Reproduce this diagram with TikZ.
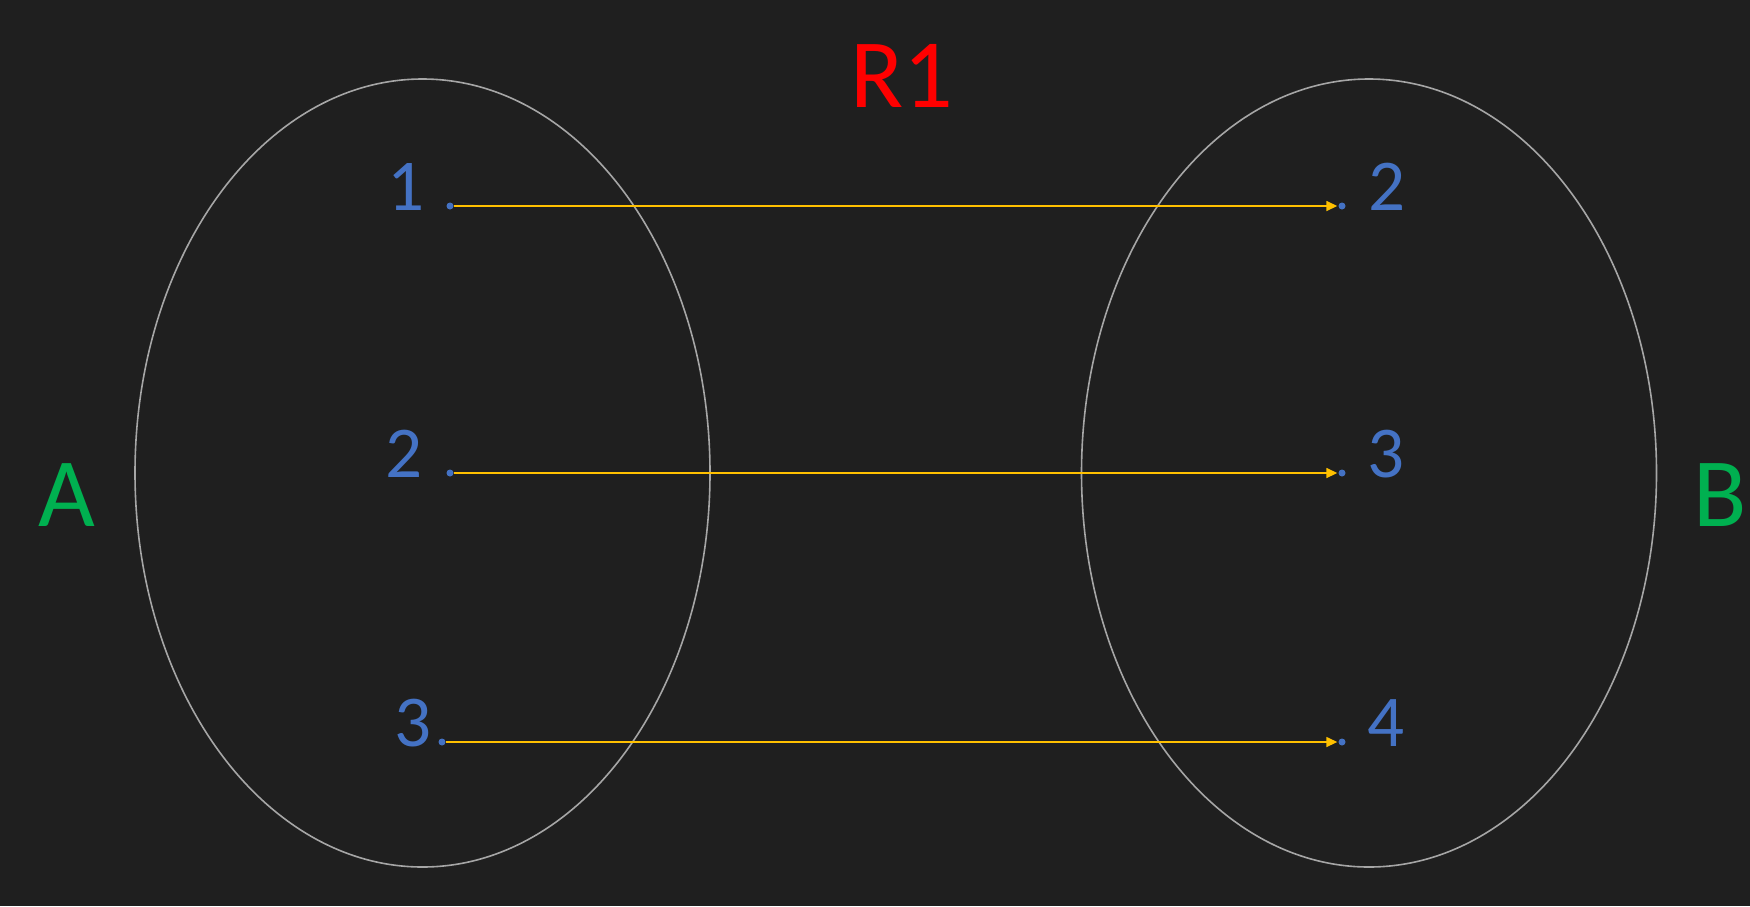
\documentclass[tikz,border=0pt]{standalone}
\usepackage{fontspec}
\setmainfont{Carlito}
\usetikzlibrary{
arrows.meta,
positioning,
shapes.geometric
}
\definecolor{RelBG}{HTML}{1F1F1F}
\definecolor{RelGray}{HTML}{A6A6A6}
\definecolor{RelBlue}{HTML}{4472C4}
\definecolor{RelGreen}{HTML}{00B050}
\definecolor{RelRed}{HTML}{FF0000}
\definecolor{RelAmber}{HTML}{FFC000}
\tikzset{
relset/.style={draw=RelGray, line width=1.6pt, ellipse, minimum width=575pt, minimum height=788pt, inner sep=0pt},
reldot/.style={circle, fill=RelBlue, minimum size=7pt, inner sep=0pt},
relnum/.style={text=RelBlue, font=\fontsize{73}{80}\selectfont, inner sep=0pt, anchor=base},
relname/.style={text=RelGreen, font=\fontsize{98}{110}\selectfont, inner sep=0pt},
reltitle/.style={text=RelRed, font=\fontsize{98}{110}\selectfont, inner sep=0pt},
relarrow/.style={-{Triangle[length=11pt, width=10pt]}, line width=1.5pt, draw=RelAmber, shorten >=1pt}
}
\begin{document}
\begin{tikzpicture}[x=1pt, y=-1pt]
\fill[RelBG] (0,0) rectangle (1750,906);
\useasboundingbox (0,0) rectangle (1750,906);

\node[relset] (setA) at (422.5,473) {};
\node[relset] (setB) at (1369,473) {};
\node[relname] (nameA) at (67,495) {A};
\node[relname] (nameB) at (1720,495) {B};
\node[reltitle] (title) at (902,76) {R1};

\node[reldot] (a1) at (450,206) {};
\node[reldot] (a2) at (450,473) {};
\node[reldot] (a3) at (442,742) {};
\node[reldot] (b1) at (1342,206) {};
\node[reldot] (b2) at (1342,473) {};
\node[reldot] (b3) at (1342,742) {};

\node[relnum] (la1) at (406,210) {1};
\node[relnum] (la2) at (404,477) {2};
\node[relnum] (la3) at (413,746) {3};
\node[relnum] (lb1) at (1387,210) {2};
\node[relnum] (lb2) at (1386,477) {3};
\node[relnum] (lb3) at (1386,746) {4};

\draw[relarrow] (a1) -- (b1);
\draw[relarrow] (a2) -- (b2);
\draw[relarrow] (a3) -- (b3);
\end{tikzpicture}
\end{document}
